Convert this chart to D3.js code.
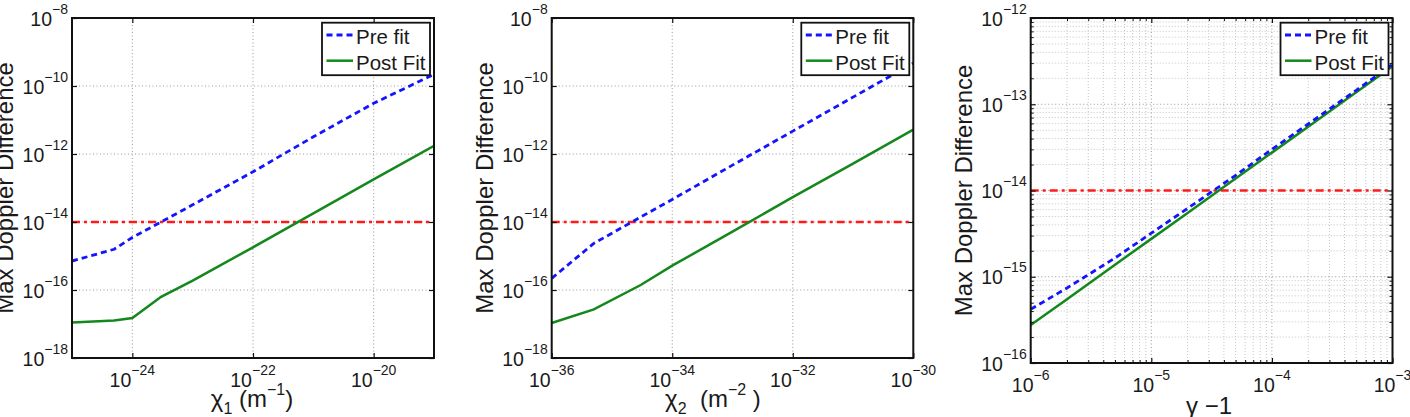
<!DOCTYPE html>
<html><head><meta charset="utf-8">
<script src="https://cdn.jsdelivr.net/npm/d3@7/dist/d3.min.js"></script>
<style>
body{margin:0;background:#fff}
text{font-family:"Liberation Sans",Arial,Helvetica,sans-serif;fill:#1a1a1a}
</style>
</head><body>
<svg id="c" width="1410" height="417"></svg>
<script>
// ---------------- DATA ----------------
// Panel 1: chi_1 (m^-1)
const chi1X    = [1e-25, 5e-25, 1e-24, 3e-24, 1e-23, 1e-22, 1e-21, 1e-20, 1e-19];
const chi1Pre  = [7.1e-16, 1.58e-15, 3.5e-15, 1.0e-14, 3.2e-14, 3.0e-13, 3.2e-12, 3.1e-11, 2.2e-10];
const chi1Post = [1.1e-17, 1.26e-17, 1.5e-17, 6.3e-17, 1.9e-16, 1.8e-15, 1.8e-14, 1.8e-13, 1.75e-12];
// Panel 2: chi_2 (m^-2)
const chi2X    = [1e-36, 5e-36, 3e-35, 1e-34, 1e-33, 1e-32, 1e-31, 1e-30];
const chi2Pre  = [2.2e-16, 2.35e-15, 1.4e-14, 4.6e-14, 4.7e-13, 4.7e-12, 4.7e-11, 4.7e-10];
const chi2Post = [1.07e-17, 2.7e-17, 1.4e-16, 5.2e-16, 5.2e-15, 5.4e-14, 5.2e-13, 5.2e-12];
// Panel 3: gamma - 1
const gammaX    = [1e-6, 2e-6, 5e-6, 1e-5, 2e-5, 5e-5, 1e-4, 2e-4, 5e-4, 1e-3];
const gammaPre  = [4.2e-16, 7.4e-16, 1.65e-15, 3.2e-15, 6.2e-15, 1.5e-14, 3.0e-14, 5.9e-14, 1.45e-13, 2.9e-13];
const gammaPost = [2.75e-16, 5.5e-16, 1.38e-15, 2.75e-15, 5.5e-15, 1.38e-14, 2.75e-14, 5.5e-14, 1.38e-13, 2.75e-13];
// Threshold (red dash-dot)
const threshold = 1e-14;
// Tick values
const p1XTicks = [1e-24, 1e-22, 1e-20];
const p2XTicks = [1e-36, 1e-34, 1e-32, 1e-30];
const p3XTicks = [1e-6, 1e-5, 1e-4, 1e-3];
const p12YTicks = [1e-18, 1e-16, 1e-14, 1e-12, 1e-10, 1e-8];
const p3YTicks = [1e-16, 1e-15, 1e-14, 1e-13, 1e-12];
// Text
const legendLabels = ["Pre fit", "Post Fit"];
const yLabelText = "Max Doppler Difference";

// ---------------- LAYOUT ----------------
const svg = d3.select("#c");
const BLUE = "#1414ff", GREEN = "#14881c", RED = "#ff1a1a";

const panels = [
  {left:72, right:434, top:18, bottom:358, xDom:[1e-25,1e-19], yDom:[1e-18,1e-8],
   xTicks:p1XTicks, yTicks:p12YTicks, xs:chi1X, pre:chi1Pre, post:chi1Post,
   xlabel:[["χ",0],["1",1],[" (m",0],["−1",2],[")",0]], xlabelX:252, xlabelY:407, minor:false},
  {left:551.7, right:913.3, top:18, bottom:358, xDom:[1e-36,1e-30], yDom:[1e-18,1e-8],
   xTicks:p2XTicks, yTicks:p12YTicks, xs:chi2X, pre:chi2Pre, post:chi2Post,
   xlabel:[["χ",0],["2",1],["  (m",0],["−2",2],[" )",0]], xlabelX:713, xlabelY:407, minor:false},
  {left:1030.7, right:1392.5, top:18, bottom:363, xDom:[1e-6,1e-3], yDom:[1e-16,1e-12],
   xTicks:p3XTicks, yTicks:p3YTicks, xs:gammaX, pre:gammaPre, post:gammaPost,
   xlabel:[["γ −1",0]], xlabelX:1209, xlabelY:414, minor:true}
];

function minorVals(dom){
  const out=[];
  const a=Math.round(Math.log10(dom[0])), b=Math.round(Math.log10(dom[1]));
  for(let e=a;e<b;e++) for(let m=2;m<=9;m++) out.push(m*Math.pow(10,e));
  return out;
}
function expOf(v){ return Math.round(Math.log10(v)); }
function fmtExp(e){ return (e<0?"−":"")+Math.abs(e); }

panels.forEach((p,i)=>{
  const x = d3.scaleLog().domain(p.xDom).range([p.left,p.right]);
  const y = d3.scaleLog().domain(p.yDom).range([p.bottom,p.top]);
  const g = svg.append("g");
  const w = p.right-p.left, h = p.bottom-p.top;

  // grid
  const grid = g.append("g");
  if(p.minor){
    grid.selectAll("line.mx").data(minorVals(p.xDom)).join("line")
      .attr("x1",d=>x(d)).attr("x2",d=>x(d)).attr("y1",p.top).attr("y2",p.bottom)
      .attr("stroke","#c4c4c4").attr("stroke-width",1).attr("stroke-dasharray","1,2");
    grid.selectAll("line.my").data(minorVals(p.yDom)).join("line")
      .attr("y1",d=>y(d)).attr("y2",d=>y(d)).attr("x1",p.left).attr("x2",p.right)
      .attr("stroke","#c4c4c4").attr("stroke-width",1).attr("stroke-dasharray","1,2");
  }
  grid.selectAll("line.gx").data(p.xTicks).join("line")
    .attr("x1",d=>x(d)).attr("x2",d=>x(d)).attr("y1",p.top).attr("y2",p.bottom)
    .attr("stroke","#9a9a9a").attr("stroke-width",1).attr("stroke-dasharray","1,2.5");
  grid.selectAll("line.gy").data(p.yTicks).join("line")
    .attr("y1",d=>y(d)).attr("y2",d=>y(d)).attr("x1",p.left).attr("x2",p.right)
    .attr("stroke","#9a9a9a").attr("stroke-width",1).attr("stroke-dasharray","1,2.5");

  // clip
  const cid="clip"+i;
  svg.append("clipPath").attr("id",cid).append("rect")
    .attr("x",p.left).attr("y",p.top).attr("width",w).attr("height",h);
  const plot = g.append("g").attr("clip-path",`url(#${cid})`);

  // threshold
  plot.append("line").attr("x1",x(p.xDom[0])).attr("x2",x(p.xDom[1]))
    .attr("y1",y(threshold)).attr("y2",y(threshold))
    .attr("stroke",RED).attr("stroke-width",2.6).attr("stroke-dasharray","8,4,3,4");

  const line = d3.line().x(d=>x(d[0])).y(d=>y(d[1]));
  plot.append("path").datum(p.xs.map((v,k)=>[v,p.post[k]])).attr("d",line)
    .attr("fill","none").attr("stroke",GREEN).attr("stroke-width",2.5);
  plot.append("path").datum(p.xs.map((v,k)=>[v,p.pre[k]])).attr("d",line)
    .attr("fill","none").attr("stroke",BLUE).attr("stroke-width",2.8).attr("stroke-dasharray","6,4");

  // axes (ticks inward)
  const ax = [
    d3.axisBottom(x).tickValues(p.xTicks).tickSize(-5).tickSizeOuter(0).tickFormat(""),
    d3.axisTop(x).tickValues(p.xTicks).tickSize(-5).tickSizeOuter(0).tickFormat(""),
    d3.axisLeft(y).tickValues(p.yTicks).tickSize(-5).tickSizeOuter(0).tickFormat(""),
    d3.axisRight(y).tickValues(p.yTicks).tickSize(-5).tickSizeOuter(0).tickFormat("")
  ];
  const tr = [`translate(0,${p.bottom})`,`translate(0,${p.top})`,`translate(${p.left},0)`,`translate(${p.right},0)`];
  ax.forEach((a,k)=>{
    const ag=g.append("g").attr("transform",tr[k]).call(a);
    ag.select(".domain").remove();
    ag.selectAll(".tick line").attr("stroke","#111").attr("stroke-width",1.2);
  });
  if(p.minor){
    const mx=minorVals(p.xDom), my=minorVals(p.yDom);
    const mAx=[
      d3.axisBottom(x).tickValues(mx).tickSize(-3).tickSizeOuter(0).tickFormat(""),
      d3.axisTop(x).tickValues(mx).tickSize(-3).tickSizeOuter(0).tickFormat(""),
      d3.axisLeft(y).tickValues(my).tickSize(-3).tickSizeOuter(0).tickFormat(""),
      d3.axisRight(y).tickValues(my).tickSize(-3).tickSizeOuter(0).tickFormat("")
    ];
    mAx.forEach((a,k)=>{
      const ag=g.append("g").attr("transform",tr[k]).call(a);
      ag.select(".domain").remove();
      ag.selectAll(".tick line").attr("stroke","#111").attr("stroke-width",1);
    });
  }

  // box
  g.append("rect").attr("x",p.left).attr("y",p.top).attr("width",w).attr("height",h)
    .attr("fill","none").attr("stroke","#111").attr("stroke-width",2);

  // x tick labels
  const xl = g.append("g");
  p.xTicks.forEach(v=>{
    const t = xl.append("text").attr("x",x(v)).attr("y",p.bottom+28.5)
      .attr("text-anchor","middle").style("font-size","19.5px");
    t.append("tspan").text("10");
    t.append("tspan").attr("dy",-11.5).style("font-size","14px").text(fmtExp(expOf(v)));
  });
  // y tick labels
  const yl = g.append("g");
  p.yTicks.forEach(v=>{
    const t = yl.append("text").attr("x",p.left-4).attr("y",y(v)+7.5)
      .attr("text-anchor","end").style("font-size","19.5px");
    t.append("tspan").text("10");
    t.append("tspan").attr("dy",-12).style("font-size","14px").text(fmtExp(expOf(v)));
  });

  // x label
  const xt = g.append("text").attr("x",p.xlabelX).attr("y",p.xlabelY)
    .attr("text-anchor","middle").style("font-size","24px").attr("xml:space","preserve");
  let cur=0;
  p.xlabel.forEach(([s,kind])=>{
    const target = kind===1?7:(kind===2?-12:0);
    const ts = xt.append("tspan").text(s).attr("dy",target-cur);
    if(kind) ts.style("font-size","16px");
    cur=target;
  });

  // y label
  g.append("text").attr("transform",`translate(${p.left-59},${(p.top+p.bottom)/2}) rotate(-90)`)
    .attr("text-anchor","middle").style("font-size","24px").text(yLabelText);

  // legend
  const lw=108, lh=52.5, lx=p.right-4-lw, ly=p.top+4.7;
  const lg = g.append("g");
  lg.append("rect").attr("x",lx).attr("y",ly).attr("width",lw).attr("height",lh)
    .attr("fill","#fff").attr("stroke","#111").attr("stroke-width",1.8);
  const styles=[{c:BLUE,d:"6,4",w:2.8},{c:GREEN,d:null,w:2.5}];
  legendLabels.forEach((lab,k)=>{
    const cy = ly + (k===0?12.3:38);
    lg.append("line").attr("x1",lx+4.5).attr("x2",lx+31).attr("y1",cy).attr("y2",cy)
      .attr("stroke",styles[k].c).attr("stroke-width",styles[k].w)
      .attr("stroke-dasharray",styles[k].d);
    lg.append("text").attr("x",lx+34).attr("y",ly+(k===0?21.6:47.3))
      .style("font-size","20.5px").text(lab);
  });
});
</script>
</body></html>
